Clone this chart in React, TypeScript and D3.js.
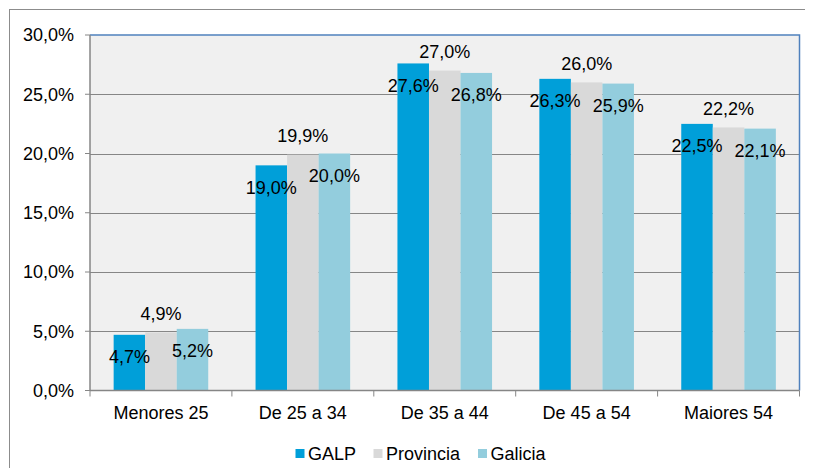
import { useEffect, useRef } from "react";
import * as d3 from "d3";

const categories = ["Menores 25", "De 25 a 34", "De 35 a 44", "De 45 a 54", "Maiores 54"];
const seriesNames = ["GALP", "Provincia", "Galicia"];
const galp = [4.7, 19.0, 27.6, 26.3, 22.5];
const provincia = [4.9, 19.9, 27.0, 26.0, 22.2];
const galicia = [5.2, 20.0, 26.8, 25.9, 22.1];
const yTicks = [0, 5, 10, 15, 20, 25, 30];

const colors = ["#009fd9", "#d9d9d9", "#93cddd"];
// label offset from bar top (positive = below top)
const labelOffsets = [22, -19, 22];

const fmt = (v: number) => v.toFixed(1).replace(".", ",") + "%";

export default function App() {
  const ref = useRef<HTMLDivElement>(null);

  useEffect(() => {
    if (!ref.current) return;
    const width = 813;
    const height = 476;
    const plot = { left: 90, top: 35, right: 799.5, bottom: 390.5 };
    const font = "'Liberation Sans', Arial, sans-serif";
    const fs = 18;

    const svg = d3
      .select(ref.current)
      .html("")
      .append("svg")
      .attr("width", width)
      .attr("height", height)
      .style("display", "block")
      .style("font-family", font);

    svg.append("rect").attr("width", width).attr("height", height).attr("fill", "#fff");

    // outer chart border
    svg
      .append("rect")
      .attr("x", 9.5)
      .attr("y", 9.5)
      .attr("width", width + 10)
      .attr("height", height + 10)
      .attr("fill", "none")
      .attr("stroke", "#8c8c8c")
      .attr("stroke-width", 1);

    const x = d3.scaleBand().domain(categories).range([plot.left, plot.right]);
    const y = d3.scaleLinear().domain([0, 30]).range([plot.bottom, plot.top]);
    const barW = x.bandwidth() / 4.5;
    const inner = d3
      .scaleBand()
      .domain(seriesNames)
      .range([0, barW * 3]);

    svg
      .append("rect")
      .attr("x", plot.left)
      .attr("y", plot.top)
      .attr("width", plot.right - plot.left)
      .attr("height", plot.bottom - plot.top)
      .attr("fill", "#f0f0f0");

    // gridlines
    svg
      .append("g")
      .selectAll("line")
      .data(yTicks.filter((t) => t > 0 && t < 30))
      .join("line")
      .attr("x1", plot.left)
      .attr("x2", plot.right)
      .attr("y1", (d) => Math.round(y(d)) + 0.5)
      .attr("y2", (d) => Math.round(y(d)) + 0.5)
      .attr("stroke", "#868686");

    // plot border top/right
    svg
      .append("path")
      .attr("d", `M${plot.left},${plot.top}H${plot.right}V${plot.bottom}`)
      .attr("fill", "none")
      .attr("stroke", "#4f81bd")
      .attr("stroke-width", 1.5);

    const series = [galp, provincia, galicia];

    series.forEach((values, si) => {
      svg
        .append("g")
        .selectAll("rect")
        .data(values)
        .join("rect")
        .attr("x", (_, i) => (x(categories[i]) as number) + barW * 0.75 + (inner(seriesNames[si]) as number))
        .attr("y", (d) => y(d))
        .attr("width", barW)
        .attr("height", (d) => plot.bottom - y(d))
        .attr("fill", colors[si]);
    });

    series.forEach((values, si) => {
      svg
        .append("g")
        .selectAll("text")
        .data(values)
        .join("text")
        .attr(
          "x",
          (_, i) => (x(categories[i]) as number) + barW * 0.75 + (inner(seriesNames[si]) as number) + barW / 2,
        )
        .attr("y", (d) => y(d) + labelOffsets[si])
        .attr("dy", "0.35em")
        .attr("text-anchor", "middle")
        .attr("font-size", fs)
        .attr("fill", "#000")
        .text((d) => fmt(d));
    });

    // axes lines
    svg
      .append("line")
      .attr("x1", plot.left)
      .attr("x2", plot.left)
      .attr("y1", plot.top)
      .attr("y2", plot.bottom)
      .attr("stroke", "#868686")
      .attr("stroke-width", 1.5);
    svg
      .append("line")
      .attr("x1", plot.left)
      .attr("x2", plot.right)
      .attr("y1", plot.bottom)
      .attr("y2", plot.bottom)
      .attr("stroke", "#868686")
      .attr("stroke-width", 1.5);

    // y ticks
    const yAxis = svg.append("g");
    yAxis
      .selectAll("line")
      .data(yTicks)
      .join("line")
      .attr("x1", plot.left - 5)
      .attr("x2", plot.left)
      .attr("y1", (d) => y(d))
      .attr("y2", (d) => y(d))
      .attr("stroke", "#868686");
    yAxis
      .selectAll("text")
      .data(yTicks)
      .join("text")
      .attr("x", 74)
      .attr("y", (d) => y(d))
      .attr("dy", "0.35em")
      .attr("text-anchor", "end")
      .attr("font-size", fs)
      .text((d) => fmt(d));

    // x ticks at category boundaries
    const bounds = categories.map((c) => x(c) as number).concat([plot.right]);
    svg
      .append("g")
      .selectAll("line")
      .data(bounds)
      .join("line")
      .attr("x1", (d) => d)
      .attr("x2", (d) => d)
      .attr("y1", plot.bottom)
      .attr("y2", plot.bottom + 6)
      .attr("stroke", "#868686");
    svg
      .append("g")
      .selectAll("text")
      .data(categories)
      .join("text")
      .attr("x", (d) => (x(d) as number) + x.bandwidth() / 2)
      .attr("y", 413)
      .attr("dy", "0.35em")
      .attr("text-anchor", "middle")
      .attr("font-size", fs)
      .text((d) => d);

    // legend
    const legendX = [295.5, 373.5, 478];
    const legend = svg.append("g");
    seriesNames.forEach((name, i) => {
      legend
        .append("rect")
        .attr("x", legendX[i])
        .attr("y", 449)
        .attr("width", 9)
        .attr("height", 9)
        .attr("fill", colors[i]);
      legend
        .append("text")
        .attr("x", legendX[i] + 12.5)
        .attr("y", 453.5)
        .attr("dy", "0.35em")
        .attr("font-size", fs)
        .text(name);
    });
  }, []);

  return <div ref={ref} style={{ margin: -8 }} />;
}
